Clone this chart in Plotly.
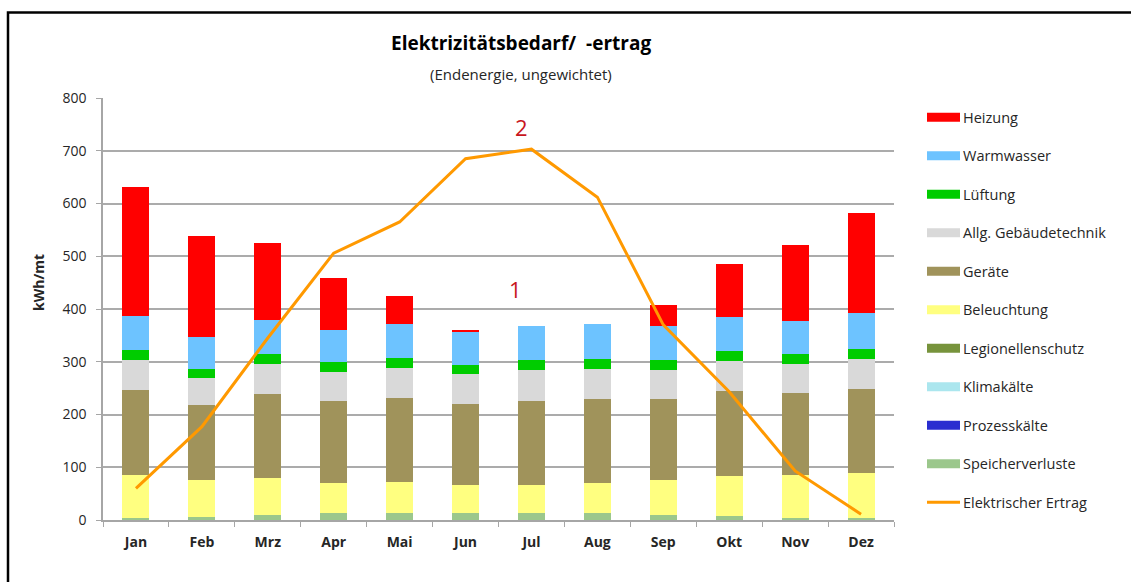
import plotly.graph_objects as go

# Monthly electricity demand per end use (kWh/mt) and PV yield
months = ["Jan", "Feb", "Mrz", "Apr", "Mai", "Jun", "Jul", "Aug", "Sep", "Okt", "Nov", "Dez"]

heizung = [245, 193, 145, 97, 53, 3, 0, 0, 40, 101, 143, 190]
warmwasser = [65, 59, 65, 62, 64, 64, 65, 66, 65, 64, 63, 67]
lueftung = [19, 17, 19, 19, 19, 17, 19, 19, 19, 19, 19, 19]
gebaeudetechnik = [57, 52, 57, 55, 57, 57, 59, 58, 55, 57, 55, 57]
geraete = [160, 143, 159, 155, 160, 153, 158, 159, 154, 160, 155, 160]
beleuchtung = [83, 69, 70, 57, 59, 54, 54, 57, 65, 76, 83, 86]
legionellenschutz = [0, 0, 0, 0, 0, 0, 0, 0, 0, 0, 0, 0]
klimakaelte = [0, 0, 0, 0, 0, 0, 0, 0, 0, 0, 0, 0]
prozesskaelte = [0, 0, 0, 0, 0, 0, 0, 0, 0, 0, 0, 0]
speicherverluste = [3, 6, 10, 13, 13, 13, 13, 13, 10, 8, 3, 3]
elektrischer_ertrag = [60, 177, 345, 506, 565, 685, 703, 612, 370, 243, 93, 11]

y_ticks = [0, 100, 200, 300, 400, 500, 600, 700, 800]

# stacked from the bottom upwards
stack = [
    ("Speicherverluste", speicherverluste, "#9BC78C"),
    ("Prozesskälte", prozesskaelte, "#2A2ED0"),
    ("Klimakälte", klimakaelte, "#ABE6EE"),
    ("Legionellenschutz", legionellenschutz, "#77933C"),
    ("Beleuchtung", beleuchtung, "#FFFF80"),
    ("Geräte", geraete, "#A0935B"),
    ("Allg. Gebäudetechnik", gebaeudetechnik, "#D9D9D9"),
    ("Lüftung", lueftung, "#00CC00"),
    ("Warmwasser", warmwasser, "#6DC3FF"),
    ("Heizung", heizung, "#FF0000"),
]
line_name, line_color = "Elektrischer Ertrag", "#FF9900"

FONT = "Open Sans, Noto Sans, sans-serif"
TEXT = "#262626"

W, H = 1131, 582
L, R, T, B = 103, 894, 98, 520


def px(x):
    return (x - L) / (R - L)


def py(y):
    return (B - y) / (B - T)


fig = go.Figure()
for name, vals, col in stack:
    fig.add_trace(go.Bar(x=months, y=vals, name=name, marker_color=col,
                         marker_line_width=0, showlegend=False))

fig.add_trace(go.Scatter(x=months, y=elektrischer_ertrag, name=line_name, mode="lines",
                         line=dict(color=line_color, width=3), showlegend=False))

shapes = []
annotations = []

# legend on the right, top entry first
legend_items = [(n, c, "bar") for n, _, c in reversed(stack)] + [(line_name, line_color, "line")]
for i, (name, col, kind) in enumerate(legend_items):
    cy = 117.3 + i * 38.5
    if kind == "bar":
        shapes.append(dict(type="rect", xref="paper", yref="paper",
                           x0=px(927), x1=px(960), y0=py(cy + 4.5), y1=py(cy - 4.5),
                           fillcolor=col, line=dict(width=0)))
    else:
        shapes.append(dict(type="line", xref="paper", yref="paper",
                           x0=px(927), x1=px(960), y0=py(cy), y1=py(cy),
                           line=dict(color=col, width=3)))
    annotations.append(dict(text=name, xref="paper", yref="paper", x=px(961), y=py(cy),
                            xanchor="left", yanchor="middle", showarrow=False,
                            font=dict(family=FONT, size=14.5, color=TEXT)))

# outer frame
shapes.append(dict(type="rect", xref="paper", yref="paper",
                   x0=px(8), x1=px(1200), y0=py(12.5), y1=py(650),
                   line=dict(color="black", width=2.5), fillcolor="rgba(0,0,0,0)"))

annotations += [
    dict(text="<b>Elektrizitätsbedarf/  -ertrag</b>", xref="paper", yref="paper",
         x=px(521), y=py(43), xanchor="center", yanchor="middle", showarrow=False,
         font=dict(family=FONT, size=19, color="black")),
    dict(text="(Endenergie, ungewichtet)", xref="paper", yref="paper",
         x=px(521), y=py(74), xanchor="center", yanchor="middle", showarrow=False,
         font=dict(family=FONT, size=15, color=TEXT)),
    dict(text="<b>kWh/mt</b>", xref="paper", yref="paper", textangle=-90,
         x=px(38), y=py(283), xanchor="center", yanchor="middle", showarrow=False,
         font=dict(family=FONT, size=14, color=TEXT)),
    dict(text="1", xref="paper", yref="paper", x=px(515), y=py(289),
         xanchor="center", yanchor="middle", showarrow=False,
         font=dict(family=FONT, size=22, color="#C8161D")),
    dict(text="2", xref="paper", yref="paper", x=px(521), y=py(127),
         xanchor="center", yanchor="middle", showarrow=False,
         font=dict(family=FONT, size=22, color="#C8161D")),
]

fig.update_layout(
    width=W, height=H,
    margin=dict(l=L, r=W - R, t=T, b=H - B, pad=0),
    paper_bgcolor="white", plot_bgcolor="white",
    barmode="stack", bargap=0.59,
    showlegend=False,
    font=dict(family=FONT, color=TEXT),
    shapes=shapes, annotations=annotations,
)
fig.update_xaxes(
    type="category", showline=True, linecolor="#A6A6A6", linewidth=1.5,
    ticks="outside", tickson="boundaries", ticklen=5, tickcolor="#A6A6A6",
    tickfont=dict(family=FONT, size=14, color=TEXT, weight="bold"),
    ticklabelstandoff=8, showgrid=False,
)
fig.update_yaxes(
    range=[0, 800], tickvals=y_ticks, showline=True, linecolor="#A6A6A6", linewidth=1.5,
    ticks="outside", ticklen=5, tickcolor="#A6A6A6",
    showgrid=True, gridcolor="#ABABAB", gridwidth=1.5, zeroline=False,
    tickfont=dict(family=FONT, size=14, color=TEXT), ticklabelstandoff=7,
)

fig.write_html("out.html")
